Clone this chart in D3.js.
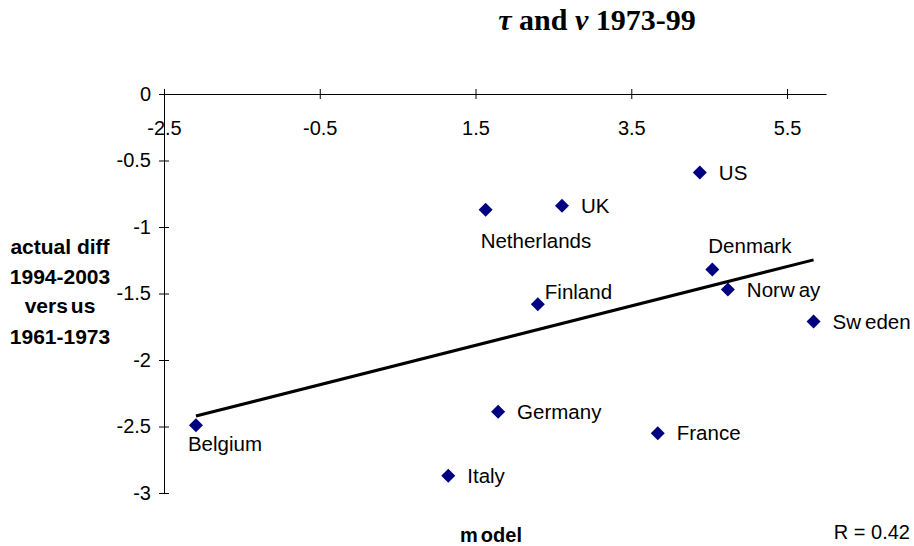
<!DOCTYPE html>
<html>
<head>
<meta charset="utf-8">
<script src="https://cdn.jsdelivr.net/npm/d3@7"></script>
<style>
  html, body { margin: 0; padding: 0; background: #fff; }
  svg { display: block; }
  .sans { font-family: "Liberation Sans", Arial, Helvetica, sans-serif; }
  .serif { font-family: "Liberation Serif", "Times New Roman", Times, serif; }
</style>
</head>
<body>
<svg id="chart" width="914" height="546"></svg>
<script>
// Countries and their values: model prediction (x) vs actual difference (y)
const countries = ["Belgium", "Netherlands", "UK", "US", "Denmark", "Norway", "Sweden", "Finland", "Germany", "France", "Italy"];
const modelValues = [-2.09, 1.63, 2.61, 4.38, 4.54, 4.74, 5.84, 2.30, 1.79, 3.84, 1.15];
const actualValues = [-2.49, -0.87, -0.84, -0.59, -1.32, -1.47, -1.71, -1.58, -2.39, -2.55, -2.87];

// Axis ticks
const xTicks = [-2.5, -0.5, 1.5, 3.5, 5.5];
const yTicks = [0, -0.5, -1, -1.5, -2, -2.5, -3];
const xDomain = [-2.5, 6.0];
const yDomain = [0, -3];

const svg = d3.select("#chart");
const W = 914, H = 546;
svg.append("rect").attr("width", W).attr("height", H).attr("fill", "#fff");

const x = d3.scaleLinear().domain(xDomain).range([164, 826]);
const y = d3.scaleLinear().domain(yDomain).range([94, 493]);

// Title
const title = svg.append("text")
  .attr("class", "serif")
  .attr("x", 597).attr("y", 30)
  .attr("text-anchor", "middle")
  .attr("font-size", 30).attr("font-weight", "bold")
  .attr("fill", "#000");
title.append("tspan").attr("font-style", "italic").text("τ");
title.append("tspan").text(" and ");
title.append("tspan").attr("font-style", "italic").text("ν");
title.append("tspan").text(" 1973-99");

// X axis along y = 0, ticks crossing the line
const xAxis = svg.append("g")
  .attr("transform", `translate(0,${y(0)})`)
  .call(d3.axisBottom(x).tickValues(xTicks).tickSizeOuter(0).tickFormat(d => d.toFixed(1)));
xAxis.selectAll(".tick line").attr("y1", -5).attr("y2", 5).attr("stroke", "#000");
xAxis.selectAll(".tick text")
  .attr("class", "sans").attr("y", 27).attr("font-size", 20).attr("fill", "#000");
xAxis.select(".domain").attr("stroke", "#000");
xAxis.attr("font-family", null).attr("font-size", null);

// Y axis at x = -2.5
const yAxis = svg.append("g")
  .attr("transform", `translate(${x(xDomain[0])},0)`)
  .call(d3.axisLeft(y).tickValues(yTicks).tickSizeOuter(0).tickFormat(d => String(d)));
yAxis.selectAll(".tick line").attr("x1", -5).attr("x2", 5).attr("stroke", "#000");
yAxis.selectAll(".tick text")
  .attr("class", "sans").attr("x", -13).attr("font-size", 20).attr("fill", "#000");
yAxis.select(".domain").attr("stroke", "#000");
yAxis.attr("font-family", null).attr("font-size", null);

// Least-squares trend line across the observed model range
const n = modelValues.length;
const mx = d3.mean(modelValues), my = d3.mean(actualValues);
let sxy = 0, sxx = 0, syy = 0;
for (let i = 0; i < n; i++) {
  const dx = modelValues[i] - mx, dy = actualValues[i] - my;
  sxy += dx * dy; sxx += dx * dx; syy += dy * dy;
}
const slope = sxy / sxx;
const intercept = my - slope * mx;
const r = sxy / Math.sqrt(sxx * syy);
const [xMin, xMax] = d3.extent(modelValues);
svg.append("line")
  .attr("x1", x(xMin)).attr("y1", y(intercept + slope * xMin))
  .attr("x2", x(xMax)).attr("y2", y(intercept + slope * xMax))
  .attr("stroke", "#000").attr("stroke-width", 3);

// Diamond markers
const points = countries.map((c, i) => ({ name: c, mx: modelValues[i], ay: actualValues[i] }));
const half = 7;
svg.append("g").selectAll("path")
  .data(points).join("path")
  .attr("d", d => {
    const cx = x(d.mx), cy = y(d.ay);
    return `M${cx},${cy - half}L${cx + half},${cy}L${cx},${cy + half}L${cx - half},${cy}Z`;
  })
  .attr("fill", "#000080");

// Label placement relative to each marker (pixels); default is to the right
const labelOffset = {
  Netherlands: [-5, 31, "start"],
  Denmark: [-4, -24, "start"],
  Belgium: [-8, 19, "start"],
  Finland: [7, -12, "start"]
};
// Extra spacing inside some words, as the chart's text renderer spaced them
const splitAt = { Norway: 4, Sweden: 2 };

const labels = svg.append("g").attr("class", "sans").attr("font-size", 20.5).attr("fill", "#000");
points.forEach(d => {
  const off = labelOffset[d.name] || [19, 0, "start"];
  const t = labels.append("text")
    .attr("x", x(d.mx) + off[0])
    .attr("y", y(d.ay) + off[1])
    .attr("dy", "0.35em")
    .attr("text-anchor", off[2]);
  if (splitAt[d.name]) {
    t.append("tspan").text(d.name.slice(0, splitAt[d.name]));
    t.append("tspan").attr("dx", 4).text(d.name.slice(splitAt[d.name]));
  } else {
    t.text(d.name);
  }
});

// Y axis title (four centred lines)
const yTitle = svg.append("g").attr("class", "sans")
  .attr("font-size", 21).attr("font-weight", "bold").attr("fill", "#000")
  .attr("text-anchor", "middle");
yTitle.append("text").attr("x", 60).attr("y", 254).text("actual diff");
yTitle.append("text").attr("x", 60).attr("y", 284).text("1994-2003");
const vs = yTitle.append("text").attr("x", 60).attr("y", 313);
vs.append("tspan").text("vers");
vs.append("tspan").attr("dx", 3).text("us");
yTitle.append("text").attr("x", 60).attr("y", 344).text("1961-1973");

// X axis title
const xTitle = svg.append("text").attr("class", "sans")
  .attr("x", 491).attr("y", 542)
  .attr("text-anchor", "middle")
  .attr("font-size", 20).attr("font-weight", "bold").attr("fill", "#000");
xTitle.append("tspan").text("m");
xTitle.append("tspan").attr("dx", 3).text("odel");

// Correlation note
svg.append("text").attr("class", "sans")
  .attr("x", 910).attr("y", 539)
  .attr("text-anchor", "end")
  .attr("font-size", 20).attr("fill", "#000")
  .text("R = " + r.toFixed(2));
</script>
</body>
</html>
